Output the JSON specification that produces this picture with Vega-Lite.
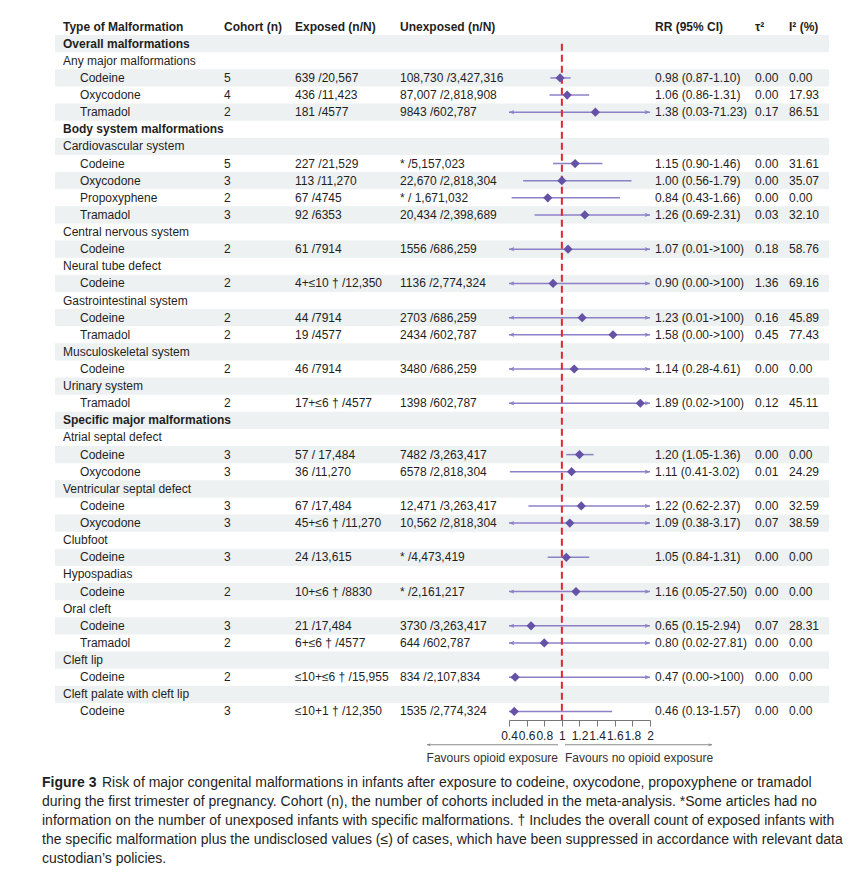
{
  "$schema": "https://vega.github.io/schema/vega-lite/v6.json",
  "padding": {"left": 42, "top": 18, "right": 0, "bottom": 0},
  "config": {
    "font": "Liberation Sans",
    "view": {"stroke": null},
    "text": {"fontSize": 12, "color": "#1f1f1f", "align": "left", "baseline": "middle"},
    "axisX": {"domainColor": "#777777", "tickColor": "#777777", "tickSize": 6, "labelFontSize": 12, "labelColor": "#222222", "labelFlush": false, "labelOverlap": false, "grid": false, "labelPadding": 4}
  },
  "datasets": {
    "rows": [
      {"row": 0, "kind": "header", "label": "Type of Malformation", "cohort": "Cohort (n)", "exposed": "Exposed (n/N)", "unexposed": "Unexposed (n/N)", "ci": "RR (95% CI)", "tau": "τ²", "i2": "I² (%)"},
      {"row": 1, "kind": "section", "label": "Overall malformations"},
      {"row": 2, "kind": "group", "label": "Any major malformations"},
      {"row": 3, "kind": "drug", "label": "Codeine", "cohort": "5", "exposed": "639 /20,567", "unexposed": "108,730 /3,427,316", "rr": 0.98, "lo": 0.87, "hi": 1.10, "ci": "0.98 (0.87-1.10)", "tau": "0.00", "i2": "0.00"},
      {"row": 4, "kind": "drug", "label": "Oxycodone", "cohort": "4", "exposed": "436 /11,423", "unexposed": "87,007 /2,818,908", "rr": 1.06, "lo": 0.86, "hi": 1.31, "ci": "1.06 (0.86-1.31)", "tau": "0.00", "i2": "17.93"},
      {"row": 5, "kind": "drug", "label": "Tramadol", "cohort": "2", "exposed": "181 /4577", "unexposed": "9843 /602,787", "rr": 1.38, "lo": 0.03, "hi": 71.23, "ci": "1.38 (0.03-71.23)", "tau": "0.17", "i2": "86.51"},
      {"row": 6, "kind": "section", "label": "Body system malformations"},
      {"row": 7, "kind": "group", "label": "Cardiovascular system"},
      {"row": 8, "kind": "drug", "label": "Codeine", "cohort": "5", "exposed": "227 /21,529", "unexposed": "* /5,157,023", "rr": 1.15, "lo": 0.90, "hi": 1.46, "ci": "1.15 (0.90-1.46)", "tau": "0.00", "i2": "31.61"},
      {"row": 9, "kind": "drug", "label": "Oxycodone", "cohort": "3", "exposed": "113 /11,270", "unexposed": "22,670 /2,818,304", "rr": 1.00, "lo": 0.56, "hi": 1.79, "ci": "1.00 (0.56-1.79)", "tau": "0.00", "i2": "35.07"},
      {"row": 10, "kind": "drug", "label": "Propoxyphene", "cohort": "2", "exposed": "67 /4745", "unexposed": "* / 1,671,032", "rr": 0.84, "lo": 0.43, "hi": 1.66, "ci": "0.84 (0.43-1.66)", "tau": "0.00", "i2": "0.00"},
      {"row": 11, "kind": "drug", "label": "Tramadol", "cohort": "3", "exposed": "92 /6353", "unexposed": "20,434 /2,398,689", "rr": 1.26, "lo": 0.69, "hi": 2.31, "ci": "1.26 (0.69-2.31)", "tau": "0.03", "i2": "32.10"},
      {"row": 12, "kind": "group", "label": "Central nervous system"},
      {"row": 13, "kind": "drug", "label": "Codeine", "cohort": "2", "exposed": "61 /7914", "unexposed": "1556 /686,259", "rr": 1.07, "lo": 0.01, "hi": 100, "ci": "1.07 (0.01->100)", "tau": "0.18", "i2": "58.76"},
      {"row": 14, "kind": "group", "label": "Neural tube defect"},
      {"row": 15, "kind": "drug", "label": "Codeine", "cohort": "2", "exposed": "4+≤10 † /12,350", "unexposed": "1136 /2,774,324", "rr": 0.90, "lo": 0.00, "hi": 100, "ci": "0.90 (0.00->100)", "tau": "1.36", "i2": "69.16"},
      {"row": 16, "kind": "group", "label": "Gastrointestinal system"},
      {"row": 17, "kind": "drug", "label": "Codeine", "cohort": "2", "exposed": "44 /7914", "unexposed": "2703 /686,259", "rr": 1.23, "lo": 0.01, "hi": 100, "ci": "1.23 (0.01->100)", "tau": "0.16", "i2": "45.89"},
      {"row": 18, "kind": "drug", "label": "Tramadol", "cohort": "2", "exposed": "19 /4577", "unexposed": "2434 /602,787", "rr": 1.58, "lo": 0.00, "hi": 100, "ci": "1.58 (0.00->100)", "tau": "0.45", "i2": "77.43"},
      {"row": 19, "kind": "group", "label": "Musculoskeletal system"},
      {"row": 20, "kind": "drug", "label": "Codeine", "cohort": "2", "exposed": "46 /7914", "unexposed": "3480 /686,259", "rr": 1.14, "lo": 0.28, "hi": 4.61, "ci": "1.14 (0.28-4.61)", "tau": "0.00", "i2": "0.00"},
      {"row": 21, "kind": "group", "label": "Urinary system"},
      {"row": 22, "kind": "drug", "label": "Tramadol", "cohort": "2", "exposed": "17+≤6 † /4577", "unexposed": "1398 /602,787", "rr": 1.89, "lo": 0.02, "hi": 100, "ci": "1.89 (0.02->100)", "tau": "0.12", "i2": "45.11"},
      {"row": 23, "kind": "section", "label": "Specific major malformations"},
      {"row": 24, "kind": "group", "label": "Atrial septal defect"},
      {"row": 25, "kind": "drug", "label": "Codeine", "cohort": "3", "exposed": "57 / 17,484", "unexposed": "7482 /3,263,417", "rr": 1.20, "lo": 1.05, "hi": 1.36, "ci": "1.20 (1.05-1.36)", "tau": "0.00", "i2": "0.00"},
      {"row": 26, "kind": "drug", "label": "Oxycodone", "cohort": "3", "exposed": "36 /11,270", "unexposed": "6578 /2,818,304", "rr": 1.11, "lo": 0.41, "hi": 3.02, "ci": "1.11 (0.41-3.02)", "tau": "0.01", "i2": "24.29"},
      {"row": 27, "kind": "group", "label": "Ventricular septal defect"},
      {"row": 28, "kind": "drug", "label": "Codeine", "cohort": "3", "exposed": "67 /17,484", "unexposed": "12,471 /3,263,417", "rr": 1.22, "lo": 0.62, "hi": 2.37, "ci": "1.22 (0.62-2.37)", "tau": "0.00", "i2": "32.59"},
      {"row": 29, "kind": "drug", "label": "Oxycodone", "cohort": "3", "exposed": "45+≤6 † /11,270", "unexposed": "10,562 /2,818,304", "rr": 1.09, "lo": 0.38, "hi": 3.17, "ci": "1.09 (0.38-3.17)", "tau": "0.07", "i2": "38.59"},
      {"row": 30, "kind": "group", "label": "Clubfoot"},
      {"row": 31, "kind": "drug", "label": "Codeine", "cohort": "3", "exposed": "24 /13,615", "unexposed": "* /4,473,419", "rr": 1.05, "lo": 0.84, "hi": 1.31, "ci": "1.05 (0.84-1.31)", "tau": "0.00", "i2": "0.00"},
      {"row": 32, "kind": "group", "label": "Hypospadias"},
      {"row": 33, "kind": "drug", "label": "Codeine", "cohort": "2", "exposed": "10+≤6 † /8830", "unexposed": "* /2,161,217", "rr": 1.16, "lo": 0.05, "hi": 27.50, "ci": "1.16 (0.05-27.50)", "tau": "0.00", "i2": "0.00"},
      {"row": 34, "kind": "group", "label": "Oral cleft"},
      {"row": 35, "kind": "drug", "label": "Codeine", "cohort": "3", "exposed": "21 /17,484", "unexposed": "3730 /3,263,417", "rr": 0.65, "lo": 0.15, "hi": 2.94, "ci": "0.65 (0.15-2.94)", "tau": "0.07", "i2": "28.31"},
      {"row": 36, "kind": "drug", "label": "Tramadol", "cohort": "2", "exposed": "6+≤6 † /4577", "unexposed": "644 /602,787", "rr": 0.80, "lo": 0.02, "hi": 27.81, "ci": "0.80 (0.02-27.81)", "tau": "0.00", "i2": "0.00"},
      {"row": 37, "kind": "group", "label": "Cleft lip"},
      {"row": 38, "kind": "drug", "label": "Codeine", "cohort": "2", "exposed": "≤10+≤6 † /15,955", "unexposed": "834 /2,107,834", "rr": 0.47, "lo": 0.00, "hi": 100, "ci": "0.47 (0.00->100)", "tau": "0.00", "i2": "0.00"},
      {"row": 39, "kind": "group", "label": "Cleft palate with cleft lip"},
      {"row": 40, "kind": "drug", "label": "Codeine", "cohort": "3", "exposed": "≤10+1 † /12,350", "unexposed": "1535 /2,774,324", "rr": 0.46, "lo": 0.13, "hi": 1.57, "ci": "0.46 (0.13-1.57)", "tau": "0.00", "i2": "0.00"}
    ],
    "favours": [
      {"side": "left", "label": "Favours opioid exposure"},
      {"side": "right", "label": "Favours no opioid exposure"}
    ],
    "caption": [
      {"line": 1, "lead": "Figure 3", "text": "Risk of major congenital malformations in infants after exposure to codeine, oxycodone, propoxyphene or tramadol"},
      {"line": 2, "text": "during the first trimester of pregnancy. Cohort (n), the number of cohorts included in the meta-analysis. *Some articles had no"},
      {"line": 3, "text": "information on the number of unexposed infants with specific malformations. † Includes the overall count of exposed infants with"},
      {"line": 4, "text": "the specific malformation plus the undisclosed values (≤) of cases, which have been suppressed in accordance with relevant data"},
      {"line": 5, "text": "custodian’s policies."}
    ]
  },
  "data": {"name": "rows"},
  "spacing": 0,
  "vconcat": [
    {
      "hconcat": [
        {"width": 13, "height": 702, "data": {"values": [{}]}, "mark": {"type": "text"}, "encoding": {"text": {"value": ""}}},
        {"width": 183, "height": 702, "layer": [
          {"transform": [{"filter": "datum.row % 2 == 1"}], "mark": {"type": "rect", "color": "#edf1f1"}, "encoding": {"y": {"field": "row", "type": "ordinal", "scale": {"type": "band", "domain": [0,1,2,3,4,5,6,7,8,9,10,11,12,13,14,15,16,17,18,19,20,21,22,23,24,25,26,27,28,29,30,31,32,33,34,35,36,37,38,39,40], "paddingInner": 0, "paddingOuter": 0}, "axis": null}}},
          {"transform": [{"filter": "datum.kind == 'header' || datum.kind == 'section'"}], "mark": {"type": "text", "fontWeight": "bold", "dx": 8}, "encoding": {"y": {"field": "row", "type": "ordinal"}, "x": {"datum": 0, "type": "quantitative", "scale": {"domain": [0, 1]}, "axis": null}, "text": {"field": "label"}}},
          {"transform": [{"filter": "datum.kind == 'group'"}], "mark": {"type": "text", "dx": 8}, "encoding": {"y": {"field": "row", "type": "ordinal"}, "x": {"datum": 0, "type": "quantitative", "scale": {"domain": [0, 1]}, "axis": null}, "text": {"field": "label"}}},
          {"transform": [{"filter": "datum.kind == 'drug'"}], "mark": {"type": "text", "dx": 25}, "encoding": {"y": {"field": "row", "type": "ordinal"}, "x": {"datum": 0, "type": "quantitative", "scale": {"domain": [0, 1]}, "axis": null}, "text": {"field": "label"}}}
        ]},
        {"width": 57, "height": 702, "layer": [
          {"transform": [{"filter": "datum.row % 2 == 1"}], "mark": {"type": "rect", "color": "#edf1f1"}, "encoding": {"y": {"field": "row", "type": "ordinal", "scale": {"type": "band", "domain": [0,1,2,3,4,5,6,7,8,9,10,11,12,13,14,15,16,17,18,19,20,21,22,23,24,25,26,27,28,29,30,31,32,33,34,35,36,37,38,39,40], "paddingInner": 0, "paddingOuter": 0}, "axis": null}}},
          {"transform": [{"filter": "datum.kind == 'header'"}], "mark": {"type": "text", "fontWeight": "bold", "dx": -14}, "encoding": {"y": {"field": "row", "type": "ordinal"}, "x": {"datum": 0, "type": "quantitative", "scale": {"domain": [0, 1]}, "axis": null}, "text": {"field": "cohort"}}},
          {"transform": [{"filter": "datum.kind == 'drug'"}], "mark": {"type": "text", "dx": -14}, "encoding": {"y": {"field": "row", "type": "ordinal"}, "x": {"datum": 0, "type": "quantitative", "scale": {"domain": [0, 1]}, "axis": null}, "text": {"field": "cohort"}}}
        ]},
        {"width": 105, "height": 702, "layer": [
          {"transform": [{"filter": "datum.row % 2 == 1"}], "mark": {"type": "rect", "color": "#edf1f1"}, "encoding": {"y": {"field": "row", "type": "ordinal", "scale": {"type": "band", "domain": [0,1,2,3,4,5,6,7,8,9,10,11,12,13,14,15,16,17,18,19,20,21,22,23,24,25,26,27,28,29,30,31,32,33,34,35,36,37,38,39,40], "paddingInner": 0, "paddingOuter": 0}, "axis": null}}},
          {"transform": [{"filter": "datum.kind == 'header'"}], "mark": {"type": "text", "fontWeight": "bold"}, "encoding": {"y": {"field": "row", "type": "ordinal"}, "x": {"datum": 0, "type": "quantitative", "scale": {"domain": [0, 1]}, "axis": null}, "text": {"field": "exposed"}}},
          {"transform": [{"filter": "datum.kind == 'drug'"}], "mark": {"type": "text"}, "encoding": {"y": {"field": "row", "type": "ordinal"}, "x": {"datum": 0, "type": "quantitative", "scale": {"domain": [0, 1]}, "axis": null}, "text": {"field": "exposed"}}}
        ]},
        {"width": 109, "height": 702, "layer": [
          {"transform": [{"filter": "datum.row % 2 == 1"}], "mark": {"type": "rect", "color": "#edf1f1"}, "encoding": {"y": {"field": "row", "type": "ordinal", "scale": {"type": "band", "domain": [0,1,2,3,4,5,6,7,8,9,10,11,12,13,14,15,16,17,18,19,20,21,22,23,24,25,26,27,28,29,30,31,32,33,34,35,36,37,38,39,40], "paddingInner": 0, "paddingOuter": 0}, "axis": null}}},
          {"transform": [{"filter": "datum.kind == 'header'"}], "mark": {"type": "text", "fontWeight": "bold"}, "encoding": {"y": {"field": "row", "type": "ordinal"}, "x": {"datum": 0, "type": "quantitative", "scale": {"domain": [0, 1]}, "axis": null}, "text": {"field": "unexposed"}}},
          {"transform": [{"filter": "datum.kind == 'drug'"}], "mark": {"type": "text"}, "encoding": {"y": {"field": "row", "type": "ordinal"}, "x": {"datum": 0, "type": "quantitative", "scale": {"domain": [0, 1]}, "axis": null}, "text": {"field": "unexposed"}}}
        ]},
        {"width": 141, "height": 702, "layer": [
          {"transform": [{"filter": "datum.row % 2 == 1"}], "mark": {"type": "rect", "color": "#edf1f1"}, "encoding": {"y": {"field": "row", "type": "ordinal", "scale": {"type": "band", "domain": [0,1,2,3,4,5,6,7,8,9,10,11,12,13,14,15,16,17,18,19,20,21,22,23,24,25,26,27,28,29,30,31,32,33,34,35,36,37,38,39,40], "paddingInner": 0, "paddingOuter": 0}, "axis": null}}},
          {"transform": [{"filter": "isValid(datum.rr)"}], "mark": {"type": "rule", "color": "#8c80c8", "strokeWidth": 1.5}, "encoding": {"y": {"field": "row", "type": "ordinal"}, "x": {"field": "lo", "type": "quantitative", "scale": {"domain": [0.4, 2], "clamp": true, "nice": false, "zero": false}, "axis": {"values": [0.4, 0.6, 0.8, 1, 1.2, 1.4, 1.6, 1.8, 2], "format": "~g", "title": null, "labelOverlap": false, "labelFlush": false, "labelBound": false}}, "x2": {"field": "hi"}}},
          {"data": {"values": [{}]}, "mark": {"type": "rule", "color": "#e3262b", "strokeWidth": 2, "strokeDash": [7, 4]}, "encoding": {"x": {"datum": 1, "type": "quantitative", "scale": {"domain": [0.4, 2], "clamp": true, "nice": false, "zero": false}, "axis": {"values": [0.4, 0.6, 0.8, 1, 1.2, 1.4, 1.6, 1.8, 2], "format": "~g", "title": null, "labelOverlap": false, "labelFlush": false, "labelBound": false}}, "y": {"datum": 1, "type": "ordinal"}, "y2": {"datum": 40, "bandPosition": 1}}},
          {"transform": [{"filter": "isValid(datum.rr) && datum.lo < 0.4"}], "mark": {"type": "point", "shape": "M0,0L1,-0.42L0.8,0L1,0.42Z", "size": 110, "filled": true, "opacity": 1, "color": "#8c80c8"}, "encoding": {"y": {"field": "row", "type": "ordinal"}, "x": {"field": "lo", "type": "quantitative", "scale": {"domain": [0.4, 2], "clamp": true, "nice": false, "zero": false}, "axis": {"values": [0.4, 0.6, 0.8, 1, 1.2, 1.4, 1.6, 1.8, 2], "format": "~g", "title": null, "labelOverlap": false, "labelFlush": false, "labelBound": false}}}},
          {"transform": [{"filter": "isValid(datum.rr) && datum.hi > 2"}], "mark": {"type": "point", "shape": "M0,0L-1,-0.42L-0.8,0L-1,0.42Z", "size": 110, "filled": true, "opacity": 1, "color": "#8c80c8"}, "encoding": {"y": {"field": "row", "type": "ordinal"}, "x": {"field": "hi", "type": "quantitative", "scale": {"domain": [0.4, 2], "clamp": true, "nice": false, "zero": false}, "axis": {"values": [0.4, 0.6, 0.8, 1, 1.2, 1.4, 1.6, 1.8, 2], "format": "~g", "title": null, "labelOverlap": false, "labelFlush": false, "labelBound": false}}}},
          {"transform": [{"filter": "isValid(datum.rr)"}], "mark": {"type": "point", "shape": "diamond", "size": 85, "filled": true, "opacity": 1, "color": "#6552a6"}, "encoding": {"y": {"field": "row", "type": "ordinal"}, "x": {"field": "rr", "type": "quantitative", "scale": {"domain": [0.4, 2], "clamp": true, "nice": false, "zero": false}, "axis": {"values": [0.4, 0.6, 0.8, 1, 1.2, 1.4, 1.6, 1.8, 2], "format": "~g", "title": null, "labelOverlap": false, "labelFlush": false, "labelBound": false}}}}
        ]},
        {"width": 105, "height": 702, "layer": [
          {"transform": [{"filter": "datum.row % 2 == 1"}], "mark": {"type": "rect", "color": "#edf1f1"}, "encoding": {"y": {"field": "row", "type": "ordinal", "scale": {"type": "band", "domain": [0,1,2,3,4,5,6,7,8,9,10,11,12,13,14,15,16,17,18,19,20,21,22,23,24,25,26,27,28,29,30,31,32,33,34,35,36,37,38,39,40], "paddingInner": 0, "paddingOuter": 0}, "axis": null}}},
          {"transform": [{"filter": "datum.kind == 'header'"}], "mark": {"type": "text", "fontWeight": "bold", "dx": 5}, "encoding": {"y": {"field": "row", "type": "ordinal"}, "x": {"datum": 0, "type": "quantitative", "scale": {"domain": [0, 1]}, "axis": null}, "text": {"field": "ci"}}},
          {"transform": [{"filter": "datum.kind == 'drug'"}], "mark": {"type": "text", "dx": 5}, "encoding": {"y": {"field": "row", "type": "ordinal"}, "x": {"datum": 0, "type": "quantitative", "scale": {"domain": [0, 1]}, "axis": null}, "text": {"field": "ci"}}}
        ]},
        {"width": 34, "height": 702, "layer": [
          {"transform": [{"filter": "datum.row % 2 == 1"}], "mark": {"type": "rect", "color": "#edf1f1"}, "encoding": {"y": {"field": "row", "type": "ordinal", "scale": {"type": "band", "domain": [0,1,2,3,4,5,6,7,8,9,10,11,12,13,14,15,16,17,18,19,20,21,22,23,24,25,26,27,28,29,30,31,32,33,34,35,36,37,38,39,40], "paddingInner": 0, "paddingOuter": 0}, "axis": null}}},
          {"transform": [{"filter": "datum.kind == 'header'"}], "mark": {"type": "text", "fontWeight": "bold"}, "encoding": {"y": {"field": "row", "type": "ordinal"}, "x": {"datum": 0, "type": "quantitative", "scale": {"domain": [0, 1]}, "axis": null}, "text": {"field": "tau"}}},
          {"transform": [{"filter": "datum.kind == 'drug'"}], "mark": {"type": "text"}, "encoding": {"y": {"field": "row", "type": "ordinal"}, "x": {"datum": 0, "type": "quantitative", "scale": {"domain": [0, 1]}, "axis": null}, "text": {"field": "tau"}}}
        ]},
        {"width": 40, "height": 702, "layer": [
          {"transform": [{"filter": "datum.row % 2 == 1"}], "mark": {"type": "rect", "color": "#edf1f1"}, "encoding": {"y": {"field": "row", "type": "ordinal", "scale": {"type": "band", "domain": [0,1,2,3,4,5,6,7,8,9,10,11,12,13,14,15,16,17,18,19,20,21,22,23,24,25,26,27,28,29,30,31,32,33,34,35,36,37,38,39,40], "paddingInner": 0, "paddingOuter": 0}, "axis": null}}},
          {"transform": [{"filter": "datum.kind == 'header'"}], "mark": {"type": "text", "fontWeight": "bold"}, "encoding": {"y": {"field": "row", "type": "ordinal"}, "x": {"datum": 0, "type": "quantitative", "scale": {"domain": [0, 1]}, "axis": null}, "text": {"field": "i2"}}},
          {"transform": [{"filter": "datum.kind == 'drug'"}], "mark": {"type": "text"}, "encoding": {"y": {"field": "row", "type": "ordinal"}, "x": {"datum": 0, "type": "quantitative", "scale": {"domain": [0, 1]}, "axis": null}, "text": {"field": "i2"}}}
        ]}
      ],
      "spacing": 0,
      "bounds": "flush"
    },
    {
      "data": {"name": "favours"},
      "hconcat": [
        {"width": 385, "height": 20, "data": {"values": [{}]}, "mark": {"type": "text"}, "encoding": {"text": {"value": ""}}},
        {"width": 131, "height": 20, "transform": [{"filter": "datum.side == 'left'"}], "layer": [
          {"mark": {"type": "rule", "color": "#8a8a8a", "strokeWidth": 1}, "encoding": {"y": {"datum": "arrow", "type": "nominal", "scale": {"type": "point", "domain": ["arrow", "text"], "padding": 0.3}, "axis": null}}},
          {"mark": {"type": "point", "shape": "M0,0L1,-0.4L0.8,0L1,0.4Z", "size": 49, "filled": true, "opacity": 1, "color": "#8a8a8a"}, "encoding": {"y": {"datum": "arrow", "type": "nominal"}, "x": {"datum": 0, "type": "quantitative", "scale": {"domain": [0, 1]}, "axis": null}}},
          {"mark": {"type": "text", "align": "right", "color": "#333333", "dy": 1}, "encoding": {"y": {"datum": "text", "type": "nominal"}, "x": {"datum": 1, "type": "quantitative", "scale": {"domain": [0, 1]}, "axis": null}, "text": {"field": "label"}}}
        ]},
        {"width": 7, "height": 20, "data": {"values": [{}]}, "mark": {"type": "text"}, "encoding": {"text": {"value": ""}}},
        {"width": 147, "height": 20, "transform": [{"filter": "datum.side == 'right'"}], "layer": [
          {"mark": {"type": "rule", "color": "#8a8a8a", "strokeWidth": 1}, "encoding": {"y": {"datum": "arrow", "type": "nominal", "scale": {"type": "point", "domain": ["arrow", "text"], "padding": 0.3}, "axis": null}}},
          {"mark": {"type": "point", "shape": "M0,0L-1,-0.4L-0.8,0L-1,0.4Z", "size": 49, "filled": true, "opacity": 1, "color": "#8a8a8a"}, "encoding": {"y": {"datum": "arrow", "type": "nominal"}, "x": {"datum": 1, "type": "quantitative", "scale": {"domain": [0, 1]}, "axis": null}}},
          {"mark": {"type": "text", "align": "left", "color": "#333333", "dy": 1}, "encoding": {"y": {"datum": "text", "type": "nominal"}, "x": {"datum": 0, "type": "quantitative", "scale": {"domain": [0, 1]}, "axis": null}, "text": {"field": "label"}}}
        ]}
      ],
      "spacing": 0,
      "bounds": "flush"
    },
    {
      "data": {"name": "caption"},
      "width": 800,
      "height": 112,
      "layer": [
        {"transform": [{"filter": "datum.line == 1"}], "mark": {"type": "text", "fontWeight": "bold", "fontSize": 14}, "encoding": {"y": {"field": "line", "type": "ordinal", "scale": {"type": "band", "domain": [1, 2, 3, 4, 5], "paddingInner": 0, "paddingOuter": 0.45}, "axis": null}, "x": {"datum": 0, "type": "quantitative", "scale": {"domain": [0, 1]}, "axis": null}, "text": {"field": "lead"}}},
        {"transform": [{"filter": "datum.line == 1"}], "mark": {"type": "text", "fontSize": 14, "dx": 60}, "encoding": {"y": {"field": "line", "type": "ordinal"}, "x": {"datum": 0, "type": "quantitative", "scale": {"domain": [0, 1]}, "axis": null}, "text": {"field": "text"}}},
        {"transform": [{"filter": "datum.line > 1"}], "mark": {"type": "text", "fontSize": 14}, "encoding": {"y": {"field": "line", "type": "ordinal"}, "x": {"datum": 0, "type": "quantitative", "scale": {"domain": [0, 1]}, "axis": null}, "text": {"field": "text"}}}
      ]
    }
  ]
}
